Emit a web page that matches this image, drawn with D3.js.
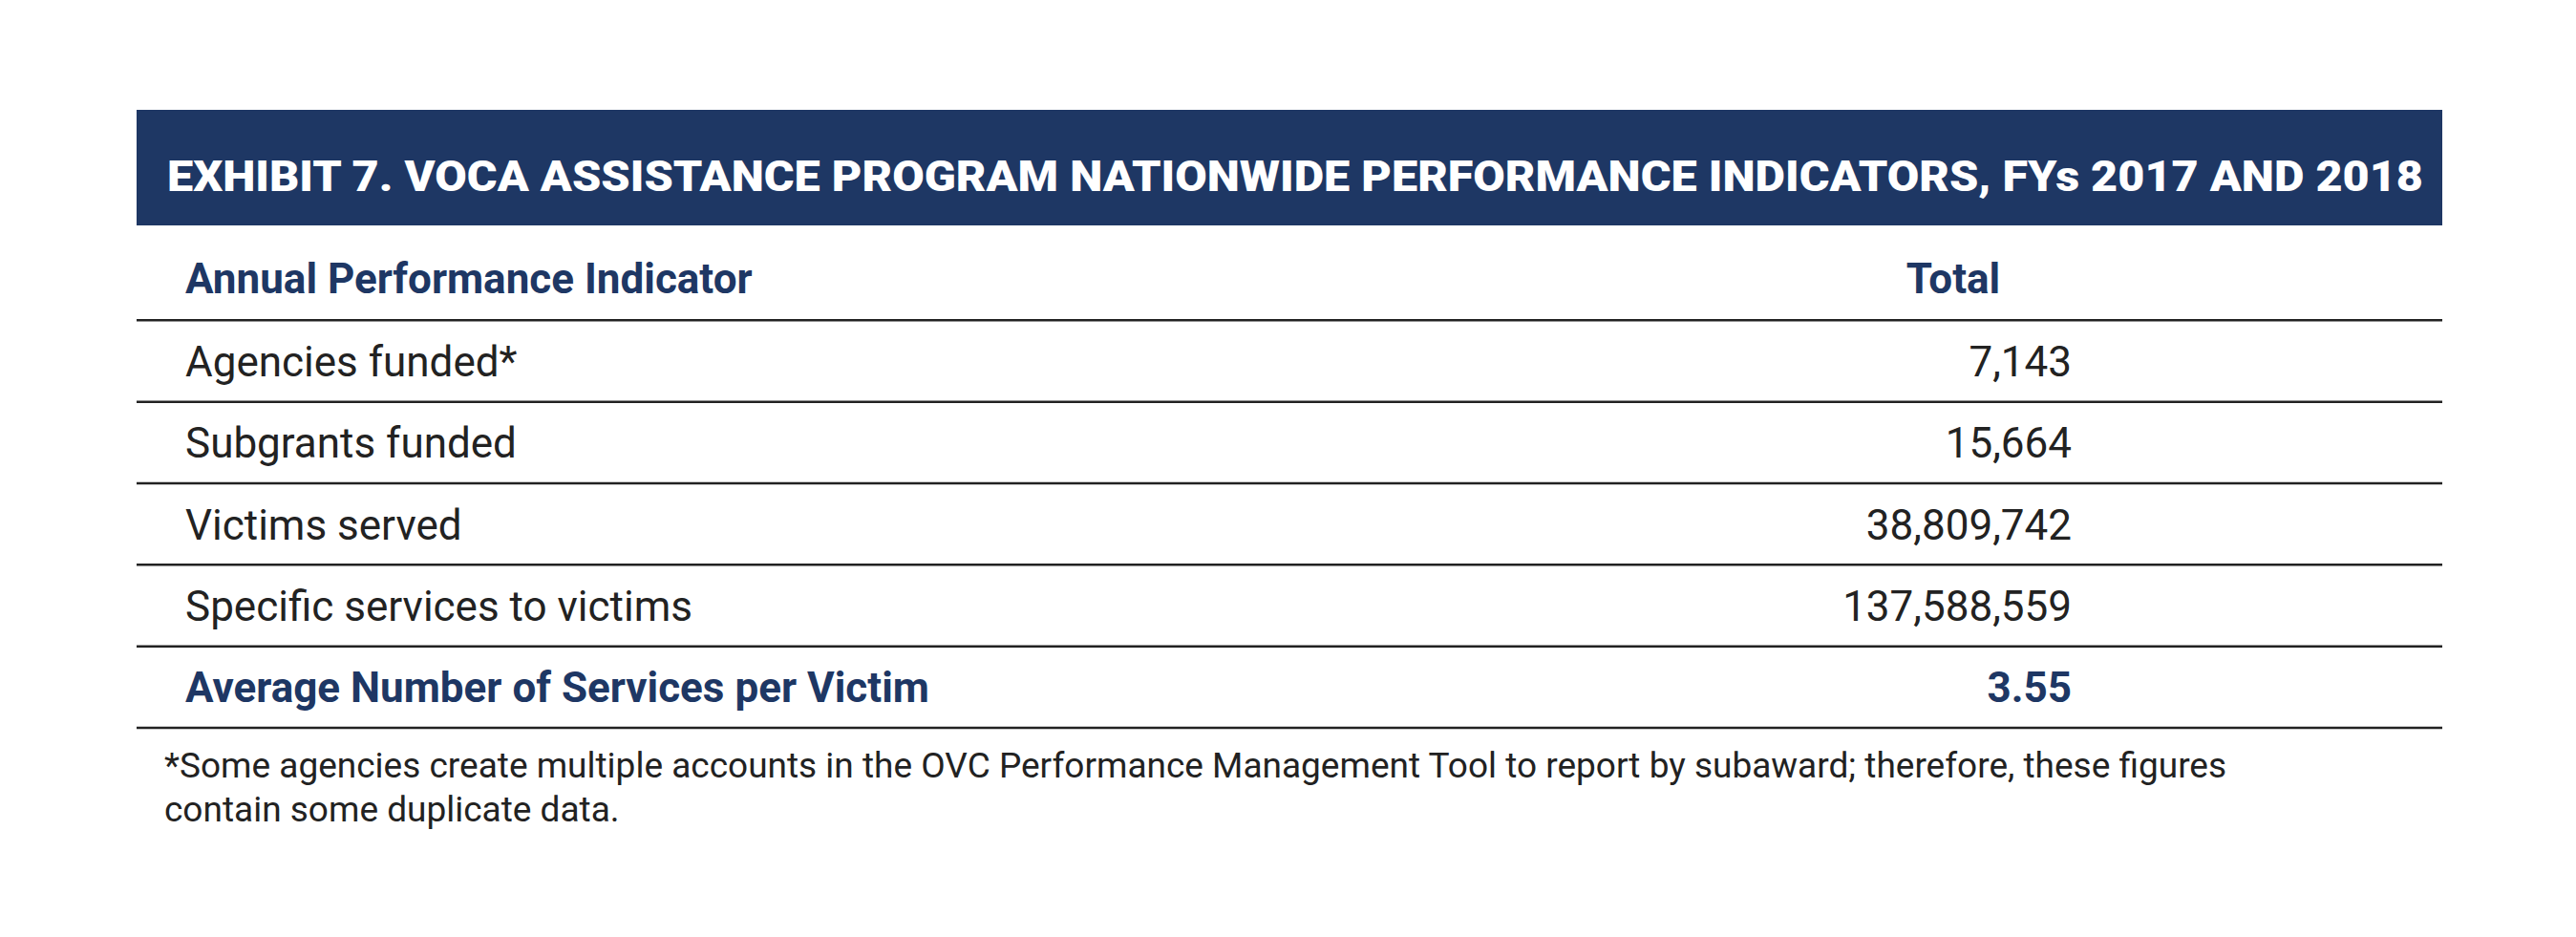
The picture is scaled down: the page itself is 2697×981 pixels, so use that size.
<!DOCTYPE html>
<html>
<head>
<meta charset="utf-8">
<script src="https://cdn.jsdelivr.net/npm/d3@7"></script>
<style>
  body { margin: 0; background: #fff; }
</style>
</head>
<body>
<svg></svg>
<script>
const title = "EXHIBIT 7. VOCA ASSISTANCE PROGRAM NATIONWIDE PERFORMANCE INDICATORS, FYs 2017 AND 2018";
const columns = ["Annual Performance Indicator", "Total"];
const indicators = [
  "Agencies funded*",
  "Subgrants funded",
  "Victims served",
  "Specific services to victims",
  "Average Number of Services per Victim",
];
const totals = ["7,143", "15,664", "38,809,742", "137,588,559", "3.55"];
const footnote = [
  "*Some agencies create multiple accounts in the OVC Performance Management Tool to report by subaward; therefore, these figures",
  "contain some duplicate data.",
];

const navy = "#1e3764";
const width = 2697, height = 981;
const svg = d3.select("svg").attr("width", width).attr("height", height);

const left = 143, right = 2557;

// header band
svg.append("rect")
  .attr("x", left).attr("y", 115)
  .attr("width", right - left).attr("height", 121)
  .attr("fill", navy);

svg.append("text")
  .attr("x", 175).attr("y", 200)
  .attr("textLength", 2362).attr("lengthAdjust", "spacingAndGlyphs")
  .attr("fill", "#fff")
  .style("font-family", "Roboto")
  .style("font-weight", "900")
  .style("font-size", "45px")
  .text(title);

// rows: header row + data rows
const rowKeys = ["head"].concat(indicators);
const y = d3.scaleBand().domain(rowKeys).range([250, 762]).padding(0);

const font = "Roboto, sans-serif";
const fs = "44px";

// column header
svg.append("text")
  .attr("x", 194).attr("y", y("head") + 57)
  .attr("fill", navy)
  .style("font-family", font).style("font-weight", "bold").style("font-size", fs)
  .text(columns[0]);
svg.append("text")
  .attr("x", 2045).attr("y", y("head") + 57)
  .attr("text-anchor", "middle")
  .attr("fill", navy)
  .style("font-family", font).style("font-weight", "bold").style("font-size", fs)
  .text(columns[1]);

// separator lines below each row
svg.selectAll("line.sep")
  .data(rowKeys)
  .join("line")
  .attr("class", "sep")
  .attr("x1", left).attr("x2", right)
  .attr("y1", (d) => y(d) + y.bandwidth())
  .attr("y2", (d) => y(d) + y.bandwidth())
  .attr("stroke", "#222")
  .attr("stroke-width", 2.5);

const isLast = (i) => i === indicators.length - 1;

svg.selectAll("text.label")
  .data(indicators)
  .join("text")
  .attr("class", "label")
  .attr("x", 194)
  .attr("y", (d) => y(d) + y.bandwidth() / 2 + 16)
  .attr("fill", (d, i) => (isLast(i) ? navy : "#222"))
  .style("font-family", font)
  .style("font-weight", (d, i) => (isLast(i) ? "bold" : "normal"))
  .style("font-size", fs)
  .text((d) => d);

svg.selectAll("text.value")
  .data(totals)
  .join("text")
  .attr("class", "value")
  .attr("x", 2169)
  .attr("y", (d, i) => y(indicators[i]) + y.bandwidth() / 2 + 16)
  .attr("text-anchor", "end")
  .attr("fill", (d, i) => (isLast(i) ? navy : "#222"))
  .style("font-family", font)
  .style("font-weight", (d, i) => (isLast(i) ? "bold" : "normal"))
  .style("font-size", fs)
  .text((d) => d);

// footnote
svg.selectAll("text.note")
  .data(footnote)
  .join("text")
  .attr("class", "note")
  .attr("x", 172)
  .attr("y", (d, i) => 814 + i * 46)
  .attr("fill", "#222")
  .style("font-family", "Roboto")
  .style("font-size", "37px")
  .text((d) => d);
</script>
</body>
</html>
